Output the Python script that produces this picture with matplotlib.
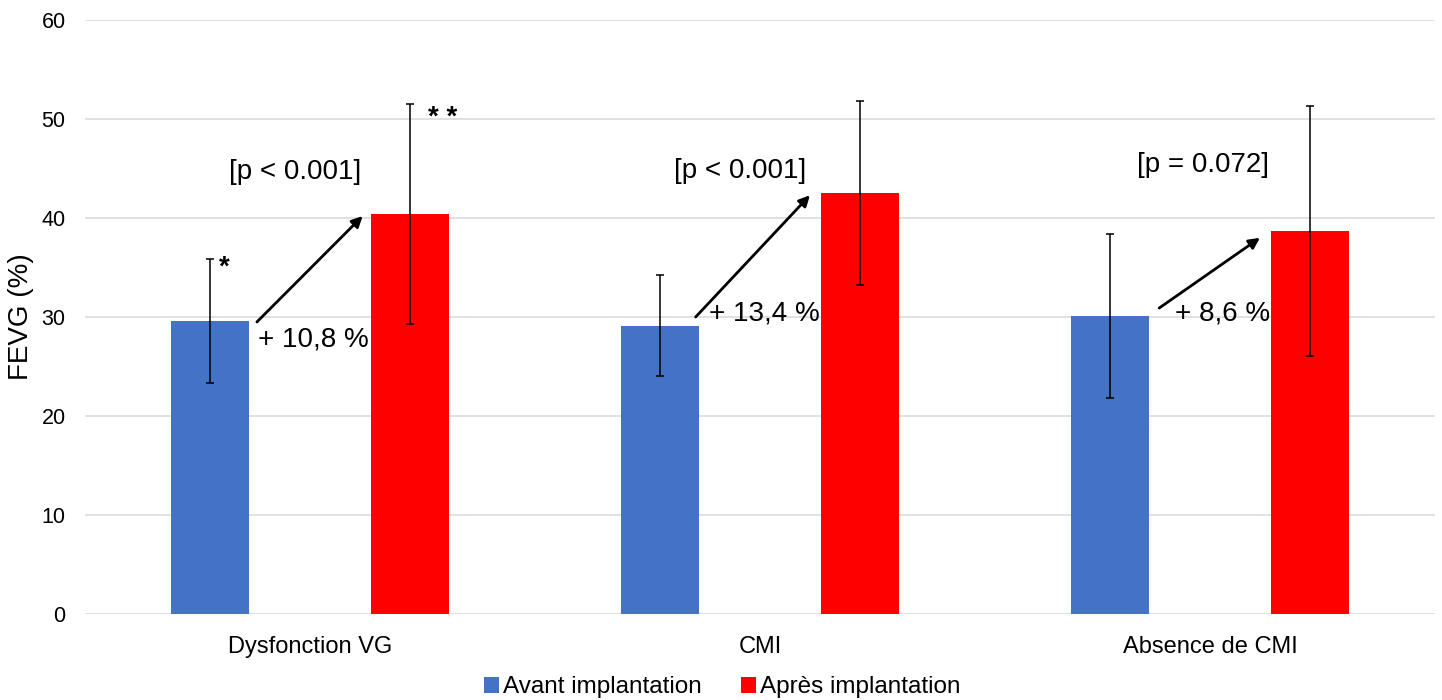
import matplotlib
matplotlib.use("Agg")
import matplotlib.pyplot as plt
from matplotlib.patches import Patch
import numpy as np

plt.rcParams['font.family'] = ['Liberation Sans', 'DejaVu Sans']

categories = ["Dysfonction VG", "CMI", "Absence de CMI"]
series_names = ["Avant implantation", "Après implantation"]
avant = [29.6, 29.1, 30.1]
avant_err = [6.3, 5.1, 8.3]
apres = [40.4, 42.5, 38.7]
apres_err = [11.1, 9.3, 12.65]
gain_labels = ["+ 10,8 %", "+ 13,4 %", "+ 8,6 %"]
p_labels = ["[p < 0.001]", "[p < 0.001]", "[p = 0.072]"]

BLUE = "#4472C4"
RED = "#FF0000"

fig = plt.figure(figsize=(14.42, 7.0), dpi=100)
ax = fig.add_axes([85/1442, 1-614/700, 1350/1442, 594/700])

x = np.arange(len(categories))
off = 0.222
w = 0.174
ax.bar(x - off, avant, w, color=BLUE, zorder=2)
ax.bar(x + off, apres, w, color=RED, zorder=2)
ekw = dict(fmt='none', ecolor='black', elinewidth=1.1, capsize=3, capthick=1.1, zorder=3)
ax.errorbar(x - off, avant, yerr=avant_err, **ekw)
ax.errorbar(x + off, apres, yerr=apres_err, **ekw)

ax.set_xlim(-0.5, 2.5)
ax.set_ylim(0, 60)
ax.set_yticks(np.arange(0, 61, 10))
ax.set_xticks(x)
ax.set_xticklabels(categories)
ax.grid(axis='y', color='#D9D9D9', lw=1.1, zorder=0)
ax.set_axisbelow(True)
for s in ax.spines.values():
    s.set_visible(False)
ax.tick_params(axis='y', length=0, pad=14, labelsize=15.5)
ax.tick_params(axis='x', length=0, pad=16, labelsize=17)
ax.set_ylabel("FEVG (%)", fontsize=20)
ax.yaxis.set_label_coords(-0.038, 0.5)

# arrows
arrow_start = [(-0.118, 29.5), (0.857, 30.0), (1.887, 30.9)]
arrow_end = [(0.117, 40.2), (1.111, 42.3), (2.111, 38.0)]
for s, e in zip(arrow_start, arrow_end):
    ax.annotate("", xy=e, xytext=s,
                arrowprops=dict(arrowstyle='-|>', color='black', lw=2,
                                mutation_scale=16, shrinkA=0, shrinkB=0), zorder=4)

gain_pos = [(-0.116, 27.7), (0.886, 30.4), (1.922, 30.4)]
for (gx, gy), t in zip(gain_pos, gain_labels):
    ax.text(gx, gy, t, fontsize=20, ha='left', va='center', zorder=5)

p_pos = [(-0.033, 44.6), (0.956, 44.7), (1.984, 45.4)]
for (px, py), t in zip(p_pos, p_labels):
    ax.text(px, py, t, fontsize=20, ha='center', va='center', zorder=5)

ax.text(-0.203, 34.3, "*", fontsize=20, fontweight='bold', ha='left', va='baseline')
ax.text(0.262, 49.4, "* *", fontsize=20, fontweight='bold', ha='left', va='baseline')

handles = [Patch(facecolor=BLUE), Patch(facecolor=RED)]
fig.legend(handles, series_names, loc='center', bbox_to_anchor=(0.501, 0.018),
           ncol=2, frameon=False, fontsize=17.5, handlelength=0.6, handleheight=0.6,
           handletextpad=0.2, columnspacing=1.6, borderaxespad=0)

fig.savefig("out.png", dpi=100)
